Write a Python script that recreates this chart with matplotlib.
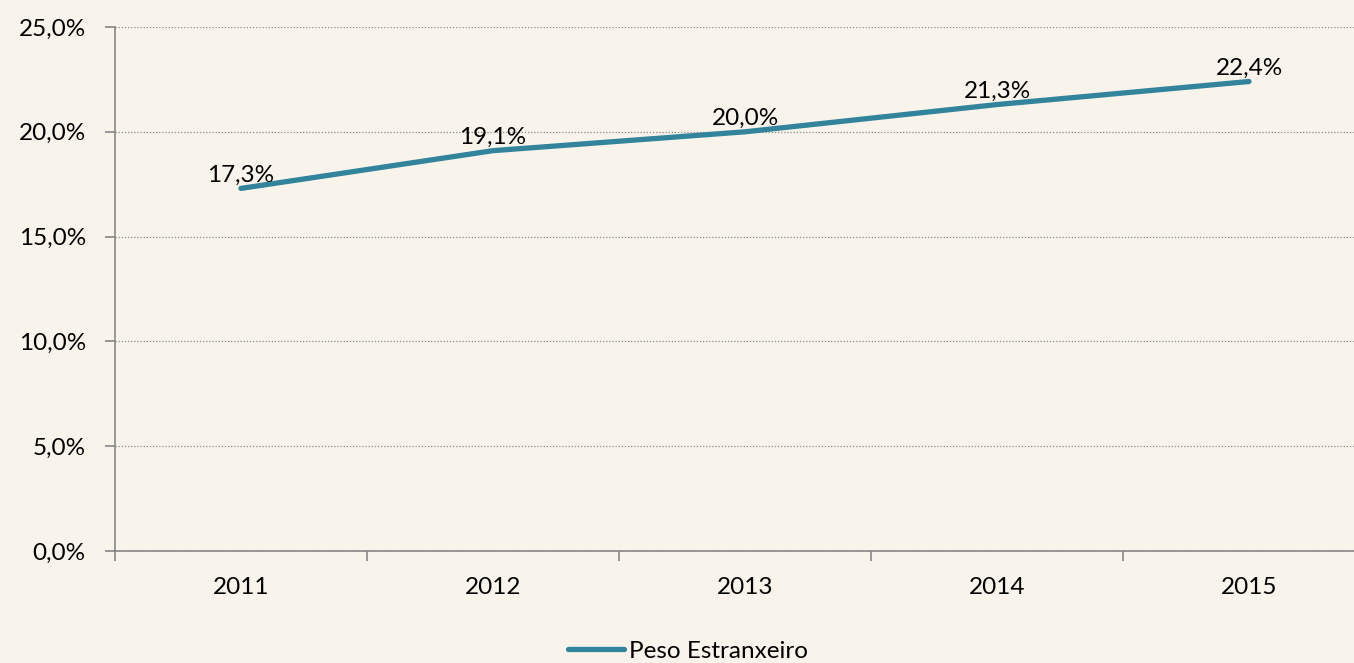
import matplotlib
matplotlib.use("Agg")
import matplotlib.pyplot as plt
from matplotlib.ticker import FuncFormatter, MultipleLocator

years = ["2011", "2012", "2013", "2014", "2015"]
values = [17.3, 19.1, 20.0, 21.3, 22.4]
series_name = "Peso Estranxeiro"

plt.rcParams['font.family'] = ['Lato', 'DejaVu Sans']
W, H = 1354, 663
FS = 17.5
fig = plt.figure(figsize=(W / 100, H / 100), dpi=100)
bg = "#f8f4ec"
fig.patch.set_facecolor(bg)

left, right, top, bottom = 115, 1375, 27, 551
ax = fig.add_axes([left / W, 1 - bottom / H, (right - left) / W, (bottom - top) / H])
ax.set_facecolor(bg)

x = list(range(len(years)))
line, = ax.plot(x, values, color="#31849b", lw=3.8, solid_capstyle="round", label=series_name)
for xi, v in zip(x, values):
    ax.annotate(f"{v:.1f}%".replace(".", ","), (xi, v), xytext=(0, 2), textcoords="offset points",
                ha="center", va="bottom", fontsize=FS, color="black")

ax.set_xlim(-0.5, len(years) - 0.5)
ax.set_ylim(0, 25)
ax.yaxis.set_major_locator(MultipleLocator(5))
ax.yaxis.set_major_formatter(FuncFormatter(lambda v, p: f"{v:.1f}%".replace(".", ",")))
ax.set_xticks(x)
ax.set_xticklabels(years)
ax.set_xticks([i - 0.5 for i in range(len(years) + 1)], minor=True)
ax.tick_params(axis="x", which="major", length=0, pad=19, labelsize=FS)
ax.tick_params(axis="x", which="minor", length=7, width=1.2, color="#868686", direction="out")
ax.tick_params(axis="y", which="major", length=7, width=1.2, color="#868686", pad=14, labelsize=FS)

for s in ["top", "right"]:
    ax.spines[s].set_visible(False)
for s in ["left", "bottom"]:
    ax.spines[s].set_color("#868686")
    ax.spines[s].set_linewidth(1.2)

ax.yaxis.grid(True, linestyle=(0, (1, 1.5)), color="#8c8c8c", lw=0.9)
ax.set_axisbelow(True)

leg = fig.legend(handles=[line], loc="center", bbox_to_anchor=(688 / W, 1 - 651 / H),
                 frameon=False, fontsize=FS, handlelength=2.3, handletextpad=0.2)

fig.savefig("out.png", dpi=100, facecolor=bg)
